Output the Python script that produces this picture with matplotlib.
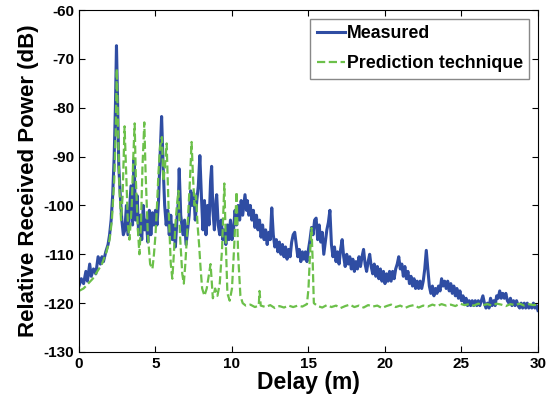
import matplotlib
matplotlib.use("Agg")
import matplotlib.pyplot as plt
import numpy as np

plt.rcParams['font.family'] = ['Liberation Sans', 'DejaVu Sans']
plt.rcParams['font.weight'] = 'bold'
plt.rcParams['axes.unicode_minus'] = False

# measured power delay profile, 0-11 m
meas_x_head = [0.0, 0.15, 0.3, 0.45, 0.55, 0.7, 0.8, 0.95, 1.1, 1.25, 1.4, 1.5, 1.6, 1.75, 1.9, 2.0, 2.1, 2.2, 2.3, 2.38,
               2.45, 2.52, 2.6, 2.7, 2.8, 2.9, 3.0, 3.1, 3.2, 3.3, 3.4, 3.5, 3.6, 3.7, 3.8, 3.9, 4.0, 4.1, 4.2, 4.3,
               4.4, 4.5, 4.6, 4.7, 4.8, 4.9, 5.0, 5.1, 5.2, 5.3, 5.4, 5.5, 5.6, 5.7, 5.8, 5.9, 6.0, 6.1, 6.2, 6.3,
               6.4, 6.5, 6.55, 6.65, 6.8, 6.9, 7.0, 7.1, 7.2, 7.3, 7.4, 7.5, 7.6, 7.7, 7.8, 7.9, 8.0, 8.1, 8.2, 8.3,
               8.4, 8.5, 8.6, 8.67, 8.75, 8.85, 8.95, 9.0, 9.1, 9.2, 9.3, 9.4, 9.5, 9.6, 9.7, 9.8, 9.9, 10.0, 10.1, 10.2,
               10.3, 10.4, 10.5, 10.6, 10.7, 10.85, 10.95]
meas_y_head = [-116.5, -115, -116, -113.5, -115.5, -112, -114.5, -113, -114, -110.5, -112, -110.5, -111.5, -109.5, -108, -106, -103, -98, -90, -80,
               -67.3, -78, -92, -98, -103, -106, -105, -100, -106, -101, -96, -104, -90.5, -103, -98, -106, -102, -107, -100, -105,
               -103, -107.5, -101, -106, -101.5, -104, -101, -104, -99, -90, -81.8, -92, -100, -104, -101, -106, -102, -107, -104, -108.5,
               -103, -99, -92.5, -102, -106, -103, -108, -105, -102, -97, -100, -97.5, -103, -99, -96, -89.8, -98, -105, -99, -106,
               -100, -104, -95, -92, -101, -105, -99, -97.8, -104, -106, -103, -107, -105, -108, -104, -107, -103, -107, -105, -101,
               -104, -100, -103, -99, -102, -97.8, -101]

meas_y_tail = [-99, -102, -100, -103, -101, -104.5, -102, -105, -103, -106.5,
               -104, -107, -105, -108, -105.5, -107, -100.5, -106, -108.5, -107,
               -109.5, -107.5, -110, -108, -110.5, -108.5, -111, -109, -110.5, -107.5,
               -106, -105.5, -108, -110.5, -109, -111.5, -109.5, -111, -109.5, -111.5,
               -109, -107, -104.5, -106, -103, -102.6, -107, -104, -107.5, -105.5,
               -110, -107.5, -105, -103.5, -101, -108, -110.5, -108.5, -111.5, -109.5,
               -112, -109, -107, -110.5, -112.5, -110, -112, -110.5, -113, -111,
               -113.5, -111.5, -113, -110.5, -112.5, -110.5, -109, -112, -113.5, -111.5,
               -110, -112.5, -114, -112, -114.5, -112.5, -115, -113, -115.5, -113.5,
               -116, -114, -115.5, -113.5, -115.5, -113.5, -115, -113, -112, -110.5,
               -113, -112, -114.5, -112.5, -115, -113.5, -116, -114.5, -116.5, -115,
               -117, -115.5, -117, -115.5, -117, -115.5, -113, -109.2, -113, -116.5,
               -118, -116.5, -118.5, -117, -118, -116.5, -117.5, -115, -116.5, -115.5,
               -117, -115.5, -117.5, -116, -118, -116.5, -118.5, -117, -119, -117.5,
               -119.5, -118.5, -120, -119, -120.5, -119.5, -120.5, -119.5, -120.5, -119.5,
               -120.5, -119.5, -120.5, -119.5, -118.5, -120, -121, -120, -121, -119,
               -120.5, -119.5, -120.5, -118.5, -119, -117.5, -119, -118, -119, -118,
               -119.5, -120, -119, -120.5, -119.5, -120.5, -119.5, -120.5, -121, -120,
               -121, -120, -121, -120, -121, -120.5, -121, -120, -121, -120.5, -121.5]
meas_x_tail = np.round(np.arange(11.0, 30.05, 0.1), 1)

# prediction technique
pred_x = [0.0, 0.3, 0.6, 0.9, 1.2, 1.5, 1.8, 2.0, 2.15, 2.3, 2.4, 2.47, 2.55, 2.65, 2.75, 2.85, 2.92, 2.98, 3.1, 3.2,
          3.3, 3.45, 3.55, 3.64, 3.72, 3.85, 3.95, 4.05, 4.15, 4.27, 4.35, 4.5, 4.65, 4.8, 4.9, 5.0, 5.1, 5.2, 5.3, 5.42,
          5.52, 5.62, 5.73, 5.85, 6.0, 6.1, 6.2, 6.3, 6.4, 6.5, 6.6, 6.75, 6.85, 6.95, 7.1, 7.25, 7.36, 7.45, 7.55, 7.65,
          7.75, 7.85, 7.95, 8.05, 8.2, 8.35, 8.5, 8.6, 8.75, 8.9, 9.05, 9.2, 9.35, 9.5, 9.6, 9.7, 9.85, 10.0, 10.15, 10.3,
          10.4, 10.55, 10.7, 10.9, 11.2, 11.5, 11.75, 11.8, 11.88, 12.2, 12.5, 12.8, 13.1, 13.4, 13.7, 14.0, 14.3, 14.6, 14.9, 15.0,
          15.1, 15.2, 15.28, 15.35, 15.6, 15.9, 16.2, 16.5, 16.8, 17.1, 17.4, 17.7, 18.0, 18.3, 18.6, 18.9, 19.2, 19.5, 19.8, 20.1,
          20.4, 20.7, 21.0, 21.3, 21.6, 21.9, 22.2, 22.5, 22.8, 23.1, 23.4, 23.7, 24.0, 24.3, 24.6, 24.9, 25.2, 25.5, 25.8, 26.1,
          26.4, 26.7, 27.0, 27.3, 27.6, 27.9, 28.2, 28.5, 28.8, 29.1, 29.4, 29.7, 30.0]
pred_y = [-117.5, -117, -116, -115, -113.5, -112, -109.5, -107, -103, -95, -85, -72, -84, -97, -103, -98, -90, -83.8, -95, -104,
          -107, -100, -90, -83.2, -95, -105, -110, -104, -92, -83, -93, -106, -112, -113, -110, -106, -100, -93, -88, -86,
          -95, -92, -87.3, -100, -112, -115, -110, -104, -100, -97, -106, -114, -116, -112, -104, -95, -87, -94, -100, -98,
          -104, -108, -113, -117, -118.5, -117, -114, -112, -119, -117, -118.5, -116, -109, -95.5, -108, -118, -119.5, -117, -108, -97.2,
          -110, -118.5, -120, -120.5, -120.3, -120.8, -120.5, -117.5, -120.5, -120.8, -120.4, -121, -120.6, -120.9, -120.5, -120.8, -120.5, -120.7, -120.2, -117,
          -110, -104.6, -112, -120, -120.6, -120.9, -120.4, -120.8, -120.5, -121, -120.6, -120.3, -120.8, -120.5, -120.9, -120.4, -120.7, -120.5, -121, -120.6,
          -120.3, -120.8, -120.5, -121, -120.6, -120.4, -120.9, -120.5, -120.7, -120.3, -120.6, -120.2, -120.5, -120.3, -120.6, -120.1, -120.4, -120.2, -120.5, -120.1,
          -120.4, -120.2, -120.5, -120.1, -120.3, -120.6, -120.2, -120.4, -120.1, -120.5, -120.2, -120.4, -120.3]

meas_x = list(meas_x_head) + list(meas_x_tail)
meas_y = meas_y_head + meas_y_tail

fig = plt.figure(figsize=(5.47, 4.01), dpi=100)
ax = fig.add_axes([0.1444, 0.1222, 0.8391, 0.8528])

ax.plot(meas_x, meas_y, color='#2f4da3', lw=2.2, label='Measured')
ax.plot(pred_x, pred_y, color='#6cc04a', lw=1.6, ls='--', label='Prediction technique')

ax.set_xlim(0, 30)
ax.set_ylim(-130, -60)
ax.set_xticks([0, 5, 10, 15, 20, 25, 30])
ax.set_yticks(range(-130, -59, 10))
ax.tick_params(direction='in', top=True, right=True, labelsize=11, length=4)
for lab in ax.get_xticklabels() + ax.get_yticklabels():
    lab.set_fontweight('bold')

ax.set_xlabel('Delay (m)', fontsize=16.5, fontweight='bold', labelpad=0)
ax.set_ylabel('Relative Received Power (dB)', fontsize=16, fontweight='bold', labelpad=3)

leg = ax.legend(loc='upper right', fontsize=12.8, handlelength=1.6, handletextpad=0.1,
                fancybox=False, framealpha=1, borderaxespad=0.5, labelspacing=0.75, borderpad=0.35)
leg.get_frame().set_edgecolor('#888888')
for t in leg.get_texts():
    t.set_fontweight('bold')

fig.savefig('out.png', dpi=100)
